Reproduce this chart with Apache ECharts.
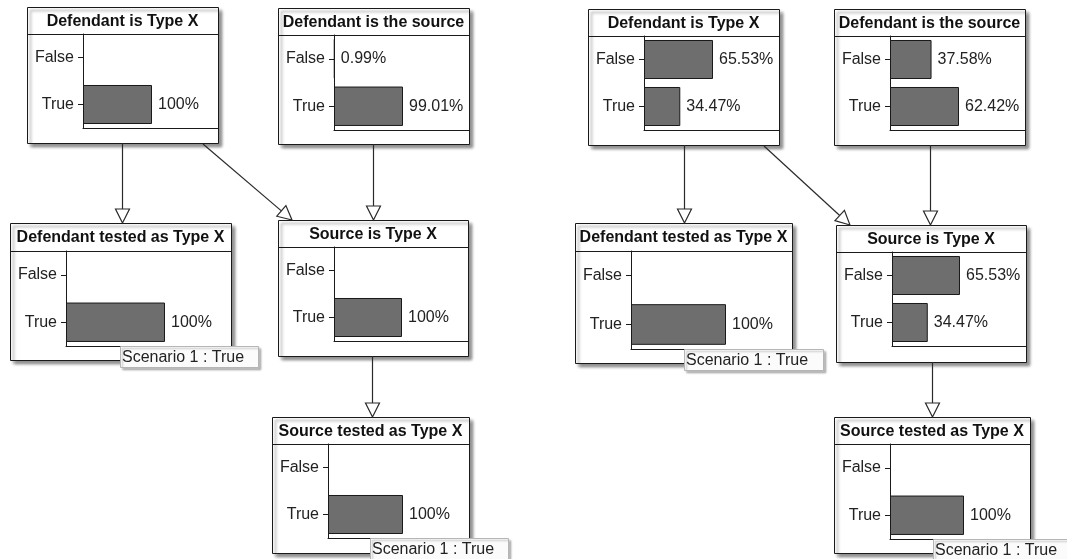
<!DOCTYPE html>
<html>
<head>
<meta charset="utf-8">
<script src="https://cdn.jsdelivr.net/npm/echarts@6/dist/echarts.min.js"></script>
<style>
html,body{margin:0;padding:0;background:#fff;}
#chart{width:1067px;height:559px;}
</style>
</head>
<body>
<div id="chart"></div>
<script>
// ---- data ----
const categories = ['False', 'True'];
const nodeTitles = ['Defendant is Type X', 'Defendant is the source', 'Defendant tested as Type X', 'Source is Type X', 'Source tested as Type X'];
const leftDefendantIsTypeX = [0, 100];
const leftDefendantIsSource = [0.99, 99.01];
const leftDefendantTested = [0, 100];
const leftSourceIsTypeX = [0, 100];
const leftSourceTested = [0, 100];
const rightDefendantIsTypeX = [65.53, 34.47];
const rightDefendantIsSource = [37.58, 62.42];
const rightDefendantTested = [0, 100];
const rightSourceIsTypeX = [65.53, 34.47];
const rightSourceTested = [0, 100];
const findingText = 'Scenario 1 : True';

const nodeValues = [
  leftDefendantIsTypeX, leftDefendantIsSource, leftDefendantTested, leftSourceIsTypeX, leftSourceTested,
  rightDefendantIsTypeX, rightDefendantIsSource, rightDefendantTested, rightSourceIsTypeX, rightSourceTested
];

// ---- layout ----
const FONT = '"Liberation Sans", Arial, sans-serif';
const layout = [
  {x: 27,  y: 7,   w: 191, h: 136, t: 27, p: 94},
  {x: 278, y: 8,   w: 191, h: 136, t: 27, p: 95},
  {x: 10,  y: 223, w: 221, h: 137, t: 28, p: 95},
  {x: 278, y: 220, w: 190, h: 136, t: 27, p: 94},
  {x: 272, y: 417, w: 197, h: 136, t: 27, p: 94},
  {x: 588, y: 9,   w: 191, h: 136, t: 27, p: 94},
  {x: 834, y: 9,   w: 191, h: 136, t: 27, p: 94},
  {x: 575, y: 223, w: 217, h: 140, t: 28, p: 98},
  {x: 836, y: 225, w: 190, h: 137, t: 27, p: 94},
  {x: 834, y: 417, w: 196, h: 136, t: 27, p: 95}
];
const LABEL_W = 56, RESERVE = 66;
const findings = [
  {x: 120, y: 346, w: 138, h: 21},
  {x: 370, y: 538, w: 138, h: 21},
  {x: 684, y: 349, w: 139, h: 21},
  {x: 933, y: 539, w: 138, h: 21}
];
// edges: [from, to, kind]
const edges = [];
[0, 5].forEach(o => {
  edges.push([o + 0, o + 2, 'v'], [o + 0, o + 3, 'd'], [o + 1, o + 3, 'v'], [o + 3, o + 4, 'v']);
});

const grids = [], xAxes = [], yAxes = [], series = [], graphics = [];

layout.forEach((n, i) => {
  const vals = nodeValues[i];
  const gw = n.w - LABEL_W;
  const mx = Math.max.apply(null, vals);
  grids.push({left: n.x + LABEL_W, top: n.y + n.t, width: gw, height: n.p, containLabel: false});
  xAxes.push({
    gridIndex: i, type: 'value', min: 0, max: mx * gw / (gw - RESERVE),
    axisLine: {show: true, lineStyle: {color: '#1a1a1a', width: 1}},
    axisTick: {show: false}, axisLabel: {show: false}, splitLine: {show: false}, z: 5
  });
  yAxes.push({
    gridIndex: i, type: 'category', data: categories, inverse: true,
    axisLine: {show: true, onZero: false, lineStyle: {color: '#1a1a1a', width: 1}},
    axisTick: {show: true, alignWithLabel: true, length: 5, lineStyle: {color: '#1a1a1a'}},
    axisLabel: {margin: 9, fontSize: 16, color: '#222', fontFamily: FONT},
    splitLine: {show: false}, z: 5
  });
  series.push({
    type: 'bar', xAxisIndex: i, yAxisIndex: i, barCategoryGap: '17%',
    data: vals.map(v => ({value: v, itemStyle: {borderWidth: v > 0 ? 1 : 0}})),
    itemStyle: {color: '#6e6e6e', borderColor: '#1a1a1a', borderWidth: 1},
    label: {
      show: true, position: 'right', distance: 6, fontSize: 16, color: '#222', fontFamily: FONT,
      formatter: p => (p.value > 0 ? p.value + '%' : '')
    },
    silent: true, z: 6
  });
  // node box
  graphics.push({
    type: 'rect', z: 1, shape: {x: n.x + 0.5, y: n.y + 0.5, width: n.w, height: n.h},
    style: {fill: '#fff', stroke: '#1a1a1a', lineWidth: 1, shadowBlur: 3, shadowOffsetX: 3, shadowOffsetY: 3, shadowColor: 'rgba(0,0,0,0.45)'}
  });
  graphics.push({
    type: 'line', z: 2, shape: {x1: n.x, y1: n.y + n.t + 0.5, x2: n.x + n.w, y2: n.y + n.t + 0.5},
    style: {stroke: '#1a1a1a', lineWidth: 1}
  });
  graphics.push({
    type: 'text', z: 3,
    style: {text: nodeTitles[i % 5], x: n.x + n.w / 2, y: n.y + n.t / 2 + 1, textAlign: 'center', verticalAlign: 'middle', textVerticalAlign: 'middle', font: 'bold 16px ' + FONT, fill: '#111'}
  });
});

// arrows
edges.forEach(([a, b, kind]) => {
  const p = layout[a], c = layout[b];
  let x1, y1, x2, y2;
  if (kind === 'v') {
    const cx = Math.round((p.x + p.w / 2 + c.x + c.w / 2) / 2) + 0.5;
    x1 = cx; y1 = p.y + p.h; x2 = cx; y2 = c.y;
  } else {
    x1 = p.x + 176; y1 = p.y + p.h + 1; x2 = c.x + 14; y2 = c.y;
  }
  const dx = x2 - x1, dy = y2 - y1, len = Math.sqrt(dx * dx + dy * dy);
  const ux = dx / len, uy = dy / len, L = 14, W = 7;
  const bx = x2 - ux * L, by = y2 - uy * L;
  graphics.push({type: 'line', z: 2, shape: {x1: x1, y1: y1, x2: bx, y2: by}, style: {stroke: '#2a2a2a', lineWidth: 1.2}});
  graphics.push({
    type: 'polygon', z: 3,
    shape: {points: [[x2, y2], [bx - uy * W, by + ux * W], [bx + uy * W, by - ux * W]]},
    style: {fill: '#fff', stroke: '#2a2a2a', lineWidth: 1.2}
  });
});

// finding labels
findings.forEach(f => {
  graphics.push({
    type: 'rect', z: 20, shape: {x: f.x + 0.5, y: f.y + 0.5, width: f.w, height: f.h},
    style: {fill: '#fbfbfb', stroke: '#b5b5b5', lineWidth: 1, shadowBlur: 2, shadowOffsetX: 2, shadowOffsetY: 2, shadowColor: 'rgba(0,0,0,0.25)'}
  });
  graphics.push({
    type: 'text', z: 21,
    style: {text: findingText, x: f.x + 2, y: f.y + f.h / 2 + 1, textAlign: 'left', verticalAlign: 'middle', textVerticalAlign: 'middle', font: '16px ' + FONT, fill: '#222'}
  });
});

const chart = echarts.init(document.getElementById('chart'), null, {renderer: 'canvas'});
chart.setOption({
  backgroundColor: '#fff',
  animation: false,
  grid: grids,
  xAxis: xAxes,
  yAxis: yAxes,
  series: series,
  graphic: {elements: graphics}
});
</script>
</body>
</html>
